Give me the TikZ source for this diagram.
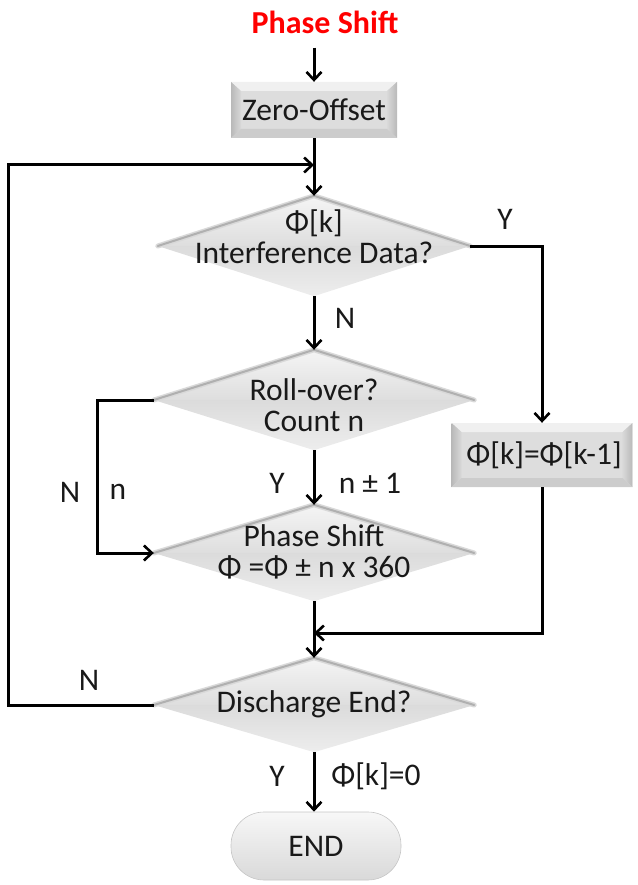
\documentclass[tikz,border=0pt]{standalone}
\usepackage{fontspec}
\setmainfont{Carlito}
\usetikzlibrary{arrows.meta,shapes.geometric,calc}
\begin{document}
\begin{tikzpicture}[x=1pt,y=-1pt,
  flow/.style={line width=3pt, draw=black},
  arr/.style={flow,-{Straight Barb[length=8pt,width=15pt,line width=2.6pt]}},
  txt/.style={font=\fontsize{31.5}{31}\selectfont, text=black!90, align=center, inner sep=0pt},
  lbl/.style={txt},
  decision/.style={diamond, draw=none, inner sep=0pt, minimum width=#1},
  bevelbox/.style={draw=none, fill=gray!27, txt, path picture={
      \fill[gray!12] (path picture bounding box.north west) -- (path picture bounding box.north east)
        -- ([xshift=-10pt,yshift=-9pt]path picture bounding box.north east)
        -- ([xshift=10pt,yshift=-9pt]path picture bounding box.north west) -- cycle;
      \shade[left color=gray!55, right color=gray!30] (path picture bounding box.north west)
        -- ([xshift=10pt,yshift=-9pt]path picture bounding box.north west)
        -- ([xshift=10pt,yshift=9pt]path picture bounding box.south west)
        -- (path picture bounding box.south west) -- cycle;
      \shade[left color=gray!30, right color=gray!55] (path picture bounding box.north east)
        -- ([xshift=-10pt,yshift=-9pt]path picture bounding box.north east)
        -- ([xshift=-10pt,yshift=9pt]path picture bounding box.south east)
        -- (path picture bounding box.south east) -- cycle;
      \fill[gray!40] (path picture bounding box.south west) -- (path picture bounding box.south east)
        -- ([xshift=-10pt,yshift=9pt]path picture bounding box.south east)
        -- ([xshift=10pt,yshift=9pt]path picture bounding box.south west) -- cycle;
  }},
]
\useasboundingbox (0,0) rectangle (637,885);

% decision shape with soft shading and a shadow along its upper edges
\newcommand{\decisionlook}[1]{%
  \shade[top color=gray!8, bottom color=gray!26] (#1.west) -- (#1.north) -- (#1.east) -- cycle;
  \shade[top color=gray!28, bottom color=gray!14] (#1.west) -- (#1.south) -- (#1.east) -- cycle;
  \draw[gray!30, line width=5pt, line cap=round, line join=round] (#1.west) -- (#1.north) -- (#1.east);
  \draw[gray!62, line width=2pt, line cap=round, line join=round] (#1.west) -- (#1.north) -- (#1.east);
}

% title
\node[txt, font=\fontsize{32}{32}\selectfont\bfseries, text=red] (title) at (325,22) {Phase Shift};

% process boxes
\node[bevelbox, minimum width=166pt, minimum height=56pt] (zero) at (314,110) {Zero-Offset};
\node[bevelbox, minimum width=181pt, minimum height=64pt] (hold) at (542,455) {$\,$Φ[k]=Φ[k-1]};

% decisions
\node[decision=312pt, minimum height=100pt] (d1) at (314,246) {};
\node[decision=320pt, minimum height=100pt] (d2) at (314,400) {};
\node[decision=320pt, minimum height=96pt] (d3) at (314,553) {};
\node[decision=320pt, minimum height=94pt] (d4) at (314,705) {};
\decisionlook{d1}
\decisionlook{d2}
\decisionlook{d3}
\decisionlook{d4}
\node[txt] (t1) at (314,237) {Φ[k]\\Interference Data?};
\node[txt] (t2) at (314,405) {Roll-over?\\Count n};
\node[txt] (t3) at (314,552) {Phase Shift\\Φ =Φ ± n x 360};
\node[txt] (t4) at (314,704) {Discharge End?};

% terminal
\node[txt, draw=gray!45, line width=0.6pt, top color=gray!6, bottom color=gray!30,
      rounded corners=33pt, minimum width=170pt, minimum height=68pt] (stop) at (316,846) {END};

% junction points
\coordinate (loopin) at (314,165);
\coordinate (merge) at (314,633);

% connectors
\draw[arr, shorten <=14pt] (title.south -| zero.north) -- (zero.north);
\draw[arr] (zero.south) -- (d1.north);
\draw[arr] (d4.west) -- ++(-145,0) |- (loopin);
\draw[arr] (d1.south) -- (d2.north);
\draw[arr] (d1.east) -| (hold.north);
\draw[arr] (d2.south) -- (d3.north);
\draw[arr] (d2.west) -- ++(-56,0) |- (d3.west);
\draw[arr] (hold.south) |- (merge);
\draw[arr] (d3.south) -- (d4.north);
\draw[arr] (d4.south) -- (d4.south |- stop.north);

% branch labels
\node[lbl] (y1) at (505,219) {Y};
\node[lbl] (n1) at (345,318) {N};
\node[lbl] (n2) at (70,492) {N};
\node[lbl] (n2c) at (118,492) {n};
\node[lbl] (y2) at (277,483) {Y};
\node[lbl] (y2c) at (370,483) {n ± 1};
\node[lbl] (n4) at (89,680) {N};
\node[lbl] (y4) at (277,776) {Y};
\node[lbl] (y4c) at (376,776) {Φ[k]=0};
\end{tikzpicture}
\end{document}
